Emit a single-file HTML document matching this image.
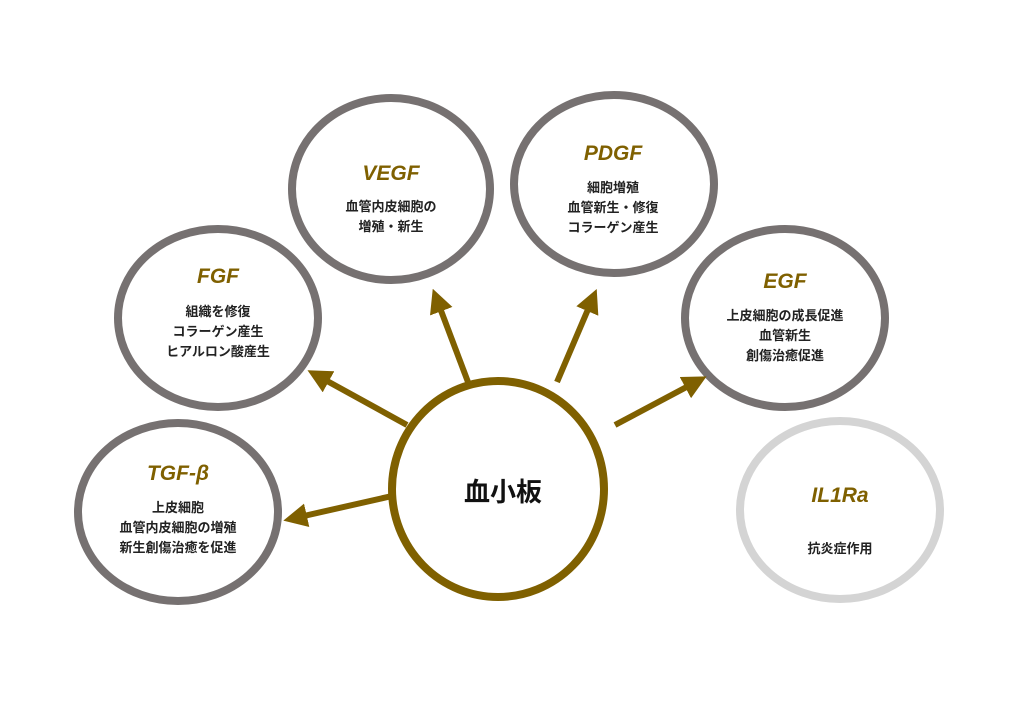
<!DOCTYPE html>
<html><head><meta charset="utf-8"><style>
body{margin:0;background:#fff;}
svg text{font-family:"Liberation Sans","Noto Sans CJK JP",sans-serif;text-anchor:middle;}
.t{font-size:21px;font-weight:bold;font-style:italic;fill:#7f6000;}
.b{font-size:13px;font-weight:bold;fill:#222;}
</style></head><body>
<svg width="1024" height="708" viewBox="0 0 1024 708" xmlns="http://www.w3.org/2000/svg">
<defs><marker id="a" markerWidth="4" markerHeight="4" refX="2" refY="2" orient="auto" markerUnits="strokeWidth"><path d="M0,0 L4,2 L0,4 z" fill="#7f6000"/></marker></defs>
<g fill="none" stroke-width="8">
<ellipse cx="391" cy="189" rx="99" ry="91" stroke="#767171"/>
<ellipse cx="614" cy="184" rx="100" ry="89" stroke="#767171"/>
<ellipse cx="218" cy="318" rx="100" ry="89" stroke="#767171"/>
<ellipse cx="785" cy="318" rx="100" ry="89" stroke="#767171"/>
<ellipse cx="178" cy="512" rx="100" ry="89" stroke="#767171"/>
<ellipse cx="840" cy="510" rx="100" ry="89" stroke="#d4d4d4"/>
<ellipse cx="498" cy="489" rx="106" ry="108" stroke="#7f6000"/>
</g>
<g stroke="#7f6000" stroke-width="6" marker-end="url(#a)">
<line x1="468" y1="382" x2="437" y2="300"/>
<line x1="557" y1="382" x2="592" y2="300"/>
<line x1="407" y1="425" x2="318" y2="376"/>
<line x1="615" y1="425" x2="696" y2="382"/>
<line x1="392" y1="496" x2="295" y2="518"/>
</g>
<text x="391" y="180" class="t">VEGF</text>
<text x="391" y="211" class="b">血管内皮細胞の</text>
<text x="391" y="231" class="b">増殖・新生</text>
<text x="613" y="160" class="t">PDGF</text>
<text x="613" y="192" class="b">細胞増殖</text>
<text x="613" y="212" class="b">血管新生・修復</text>
<text x="613" y="232" class="b">コラーゲン産生</text>
<text x="218" y="283" class="t">FGF</text>
<text x="218" y="316" class="b">組織を修復</text>
<text x="218" y="336" class="b">コラーゲン産生</text>
<text x="218" y="356" class="b">ヒアルロン酸産生</text>
<text x="785" y="288" class="t">EGF</text>
<text x="785" y="320" class="b">上皮細胞の成長促進</text>
<text x="785" y="340" class="b">血管新生</text>
<text x="785" y="360" class="b">創傷治癒促進</text>
<text x="178" y="480" class="t">TGF-β</text>
<text x="178" y="512" class="b">上皮細胞</text>
<text x="178" y="532" class="b">血管内皮細胞の増殖</text>
<text x="178" y="552" class="b">新生創傷治癒を促進</text>
<text x="840" y="502" class="t">IL1Ra</text>
<text x="840" y="553" class="b">抗炎症作用</text>
<text x="503" y="501" style="font-size:26px;font-weight:bold;fill:#111">血小板</text>
</svg>
</body></html>
